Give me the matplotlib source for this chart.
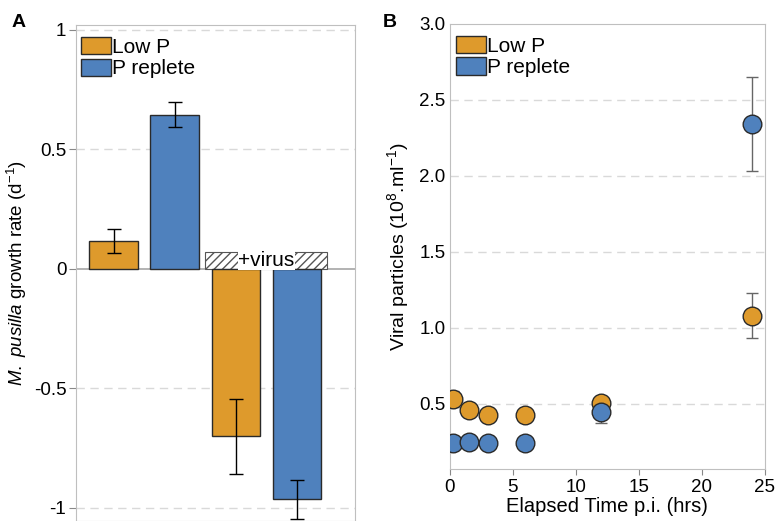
import matplotlib.pyplot as plt
import numpy as np
from matplotlib.patches import Patch, Rectangle

plt.rcParams['font.family'] = ['Liberation Sans', 'DejaVu Sans']
plt.rcParams['mathtext.fontset'] = 'custom'
plt.rcParams['mathtext.rm'] = 'Liberation Sans'
plt.rcParams['mathtext.it'] = 'Liberation Sans:italic'

# panel A data
groups = ['Low P', 'P replete', 'Low P', 'P replete']
growth = [0.115, 0.645, -0.70, -0.965]
growth_err = [0.05, 0.052, 0.157, 0.08]

# panel B data
hours = [0.25, 1.5, 3, 6, 12, 24]
lowp = [0.533, 0.463, 0.43, 0.425, 0.505, 1.079]
lowp_err = [0.05, 0.0, 0.0, 0.0, 0.0, 0.148]
repl = [0.241, 0.252, 0.24, 0.24, 0.447, 2.342]
repl_err = [0.0, 0.0, 0.0, 0.0, 0.07, 0.31]

orange = '#DE9A2C'
blue = '#4F81BD'
edge = '#2a2a2a'
grid_c = '#d9d9d9'
spine_c = '#bfbfbf'

fig = plt.figure(figsize=(7.81, 5.21), dpi=100)
axA = fig.add_axes([0.0973, 0.0, 0.3572, 0.952])
axB = fig.add_axes([0.576, 0.0998, 0.4035, 0.8542])

leg_kw = dict(loc='upper left', frameon=False, fontsize=15, handlelength=1.45,
              handleheight=0.9, handletextpad=0.02, labelspacing=0.08,
              borderaxespad=0.0, borderpad=0.15)

# ---- A
x = np.arange(len(growth))
cols = [orange, blue, orange, blue]
axA.bar(x, growth, width=0.8, color=cols, edgecolor=edge, linewidth=1, zorder=3)
axA.errorbar(x, growth, yerr=growth_err, fmt='none', ecolor='black',
             elinewidth=1, capsize=5, capthick=1, zorder=4)
axA.add_patch(Rectangle((1.5, 0), 2.0, 0.07, facecolor='white', edgecolor='#555555',
                        hatch='////', linewidth=0.8, zorder=2))
axA.text(2.5, 0.033, '+virus', ha='center', va='center', fontsize=15,
         bbox=dict(facecolor='white', edgecolor='none', pad=0), zorder=5)
axA.axhline(0, color='#a6a6a6', linewidth=1.2, zorder=1)
axA.set_xlim(-0.62, 3.95)
axA.set_ylim(-1.055, 1.02)
axA.set_yticks([1, 0.5, 0, -0.5, -1])
axA.set_yticklabels(['1', '0.5', '0', '-0.5', '-1'])
for yv in [1, 0.5, -0.5, -1]:
    axA.axhline(yv, color=grid_c, linestyle=(0, (6, 4)), linewidth=1, zorder=0)
axA.set_xticks([])
axA.tick_params(axis='y', labelsize=13.5, length=5, color='#888888', pad=2)
for s in axA.spines.values():
    s.set_color(spine_c)
axA.set_ylabel(r'$\it{M.\ pusilla}$ growth rate (d$^{\rm{-1}}$)', fontsize=13.5, labelpad=3)
axA.legend(handles=[Patch(facecolor=orange, edgecolor=edge, label='Low P'),
                    Patch(facecolor=blue, edgecolor=edge, label='P replete')],
           bbox_to_anchor=(0.007, 0.982), **leg_kw)
fig.text(0.015, 0.948, 'A', fontsize=14, fontweight='bold')

# ---- B
axB.errorbar(hours, lowp, yerr=lowp_err, fmt='none', ecolor='#666666',
             elinewidth=1, capsize=4, capthick=1, zorder=2)
axB.errorbar(hours, repl, yerr=repl_err, fmt='none', ecolor='#666666',
             elinewidth=1, capsize=4, capthick=1, zorder=2)
axB.scatter(hours, lowp, s=180, color=orange, edgecolor=edge, linewidth=1, zorder=3)
axB.scatter(hours, repl, s=180, color=blue, edgecolor=edge, linewidth=1, zorder=4)
for yv in [0.5, 1.0, 1.5, 2.0, 2.5]:
    axB.axhline(yv, color=grid_c, linestyle=(0, (6, 4)), linewidth=1, zorder=0)
axB.set_xlim(0, 25)
axB.set_ylim(0.072, 3.0)
axB.set_yticks([0.5, 1.0, 1.5, 2.0, 2.5, 3.0])
axB.set_yticklabels(['0.5', '1.0', '1.5', '2.0', '2.5', '3.0'])
axB.set_xticks([0, 5, 10, 15, 20, 25])
axB.tick_params(axis='y', labelsize=13.5, length=0, pad=3)
axB.tick_params(axis='x', labelsize=13.5, length=4, color='#888888', pad=3)
for s in axB.spines.values():
    s.set_color(spine_c)
axB.set_xlabel('Elapsed Time p.i. (hrs)', fontsize=14.5, labelpad=1)
axB.set_ylabel(r'Viral particles (10$^{\rm{8}}$.ml$^{\rm{-1}}$)', fontsize=14, labelpad=6)
axB.legend(handles=[Patch(facecolor=orange, edgecolor=edge, label='Low P'),
                    Patch(facecolor=blue, edgecolor=edge, label='P replete')],
           bbox_to_anchor=(0.01, 0.98), **leg_kw)
fig.text(0.49, 0.948, 'B', fontsize=14, fontweight='bold')

fig.savefig('out.png', dpi=100)
